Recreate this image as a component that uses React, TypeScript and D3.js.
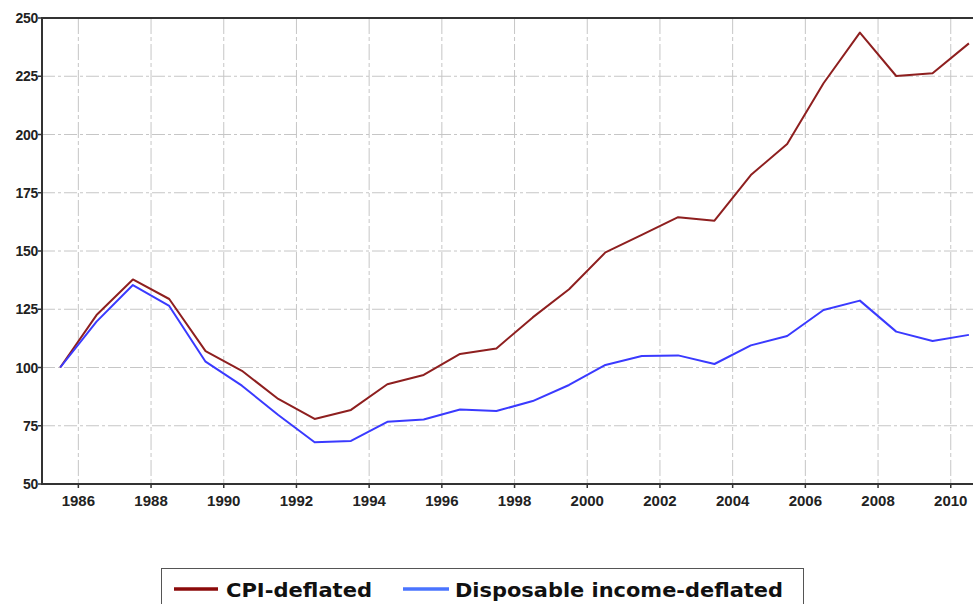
import { useMemo } from 'react'
import * as d3 from 'd3'

// index values, points placed at mid-year (1985.5 ... 2010.5)
const YEARS = d3.range(1985, 2011)
const CPI_DEFLATED = [
  100, 122.5, 137.8, 129.4, 107, 98.6, 86.5, 77.9, 81.8, 92.8,
  96.8, 105.8, 108.2, 121.5, 133.6, 149.4, 156.9, 164.5, 163, 182.6,
  195.9, 222, 243.7, 225.1, 226.3, 239.1,
]
const INCOME_DEFLATED = [
  100, 119.7, 135.4, 126.4, 102.5, 92.2, 79.6, 67.9, 68.5, 76.7,
  77.7, 82, 81.3, 85.6, 92.5, 101.1, 104.9, 105.2, 101.5, 109.5,
  113.5, 124.7, 128.7, 115.4, 111.4, 114,
]
const X_TICKS = d3.range(1986, 2011, 2)
const Y_TICKS = d3.range(50, 251, 25)

const SERIES = [
  { name: 'CPI-deflated', values: CPI_DEFLATED, color: '#8e1f1f', legend: '#8b0a0a' },
  { name: 'Disposable income-deflated', values: INCOME_DEFLATED, color: '#3a3aff', legend: '#4a74ff' },
]

export default function App() {
  const W = 973
  const H = 604
  const m = { top: 18, left: 42, bottom: 120 }
  const iH = H - m.top - m.bottom
  const yearW = 36.35

  const x = useMemo(() => d3.scaleLinear().domain([1985, 2011]).range([m.left, m.left + 26 * yearW]), [])
  const y = useMemo(() => d3.scaleLinear().domain([50, 250]).range([m.top + iH, m.top]), [])

  const line = d3.line<number>()
    .x((_, i) => x(YEARS[i] + 0.5))
    .y(d => y(d))

  const axisFont = '"Liberation Sans", Arial, sans-serif'
  const legendFont = '"DejaVu Sans", Verdana, sans-serif'

  return (
    <svg width={W} height={H} style={{ position: 'absolute', left: 0, top: 0, background: '#fff' }}>
      {/* grid */}
      {Y_TICKS.slice(1, -1).map(t => (
        <line key={'h' + t} x1={m.left} x2={W} y1={y(t)} y2={y(t)}
          stroke="#c6c6c6" strokeWidth={1} strokeDasharray="13,3,3,3" />
      ))}
      {X_TICKS.map(t => (
        <line key={'v' + t} x1={x(t)} x2={x(t)} y1={m.top} y2={m.top + iH}
          stroke="#c6c6c6" strokeWidth={1} strokeDasharray="16,3,4,3" />
      ))}

      {/* frame */}
      <line x1={m.left} x2={W} y1={m.top} y2={m.top} stroke="#333" strokeWidth={2} />
      <line x1={m.left} x2={W} y1={m.top + iH} y2={m.top + iH} stroke="#333" strokeWidth={2} />
      <line x1={m.left} x2={m.left} y1={m.top - 1} y2={m.top + iH + 1} stroke="#333" strokeWidth={2} />

      {/* y axis */}
      {Y_TICKS.map(t => (
        <g key={'y' + t}>
          <line x1={m.left - 4} x2={m.left} y1={y(t)} y2={y(t)} stroke="#333" strokeWidth={1.5} />
          <text x={m.left - 4} y={y(t) + 5} textAnchor="end" fontFamily={axisFont}
            fontWeight="bold" fontSize={14} fill="#222" letterSpacing={-0.3}>{t}</text>
        </g>
      ))}

      {/* x axis */}
      {X_TICKS.map(t => (
        <g key={'x' + t}>
          <line x1={x(t)} x2={x(t)} y1={m.top + iH} y2={m.top + iH + 4} stroke="#333" strokeWidth={1.5} />
          <text x={x(t)} y={m.top + iH + 22} textAnchor="middle" fontFamily={axisFont}
            fontWeight="bold" fontSize={15} fill="#222">{t}</text>
        </g>
      ))}

      {/* series */}
      {SERIES.map(s => (
        <path key={s.name} d={line(s.values) ?? ''} fill="none" stroke={s.color}
          strokeWidth={2} strokeLinejoin="round" />
      ))}

      {/* legend */}
      <rect x={161.5} y={568.5} width={642} height={60} fill="#fff" stroke="#555" strokeWidth={1} />
      <line x1={174} x2={218} y1={589} y2={589} stroke={SERIES[0].legend} strokeWidth={3.5} />
      <text x={226} y={597} fontFamily={legendFont} fontWeight="bold" fontSize={20} fill="#111"
        textLength={146} lengthAdjust="spacingAndGlyphs">{SERIES[0].name}</text>
      <line x1={403} x2={449} y1={589} y2={589} stroke={SERIES[1].legend} strokeWidth={3.5} />
      <text x={455} y={597} fontFamily={legendFont} fontWeight="bold" fontSize={20} fill="#111"
        textLength={328} lengthAdjust="spacingAndGlyphs">{SERIES[1].name}</text>
    </svg>
  )
}
